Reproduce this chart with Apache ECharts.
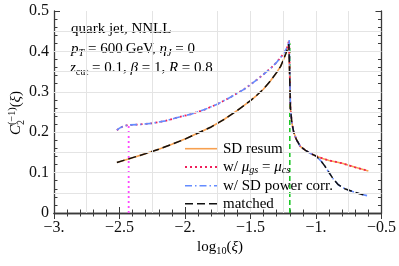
<!DOCTYPE html>
<html><head><meta charset="utf-8">
<script src="https://cdn.jsdelivr.net/npm/echarts@6/dist/echarts.min.js"></script>
<style>html,body{margin:0;padding:0;background:#fff}#c{width:399px;height:266px}</style>
</head><body><div id="c"></div>
<script>
// ---- data ----
const xTicks = [-3, -2.5, -2, -1.5, -1, -0.5];
const xTickLabels = ['\u22123.', '\u22122.5', '\u22122.', '\u22121.5', '\u22121.', '\u22120.5'];
const yTicks = [0, 0.1, 0.2, 0.3, 0.4, 0.5];
const yTickLabels = ['0', '0.1', '0.2', '0.3', '0.4', '0.5'];
const gridX = [-2.75, -2.25, -1.75, -1.5, -1.25, -1, -0.75];
const gridY = [0.05, 0.1, 0.15, 0.2, 0.25, 0.3, 0.35, 0.4, 0.45];

// lower branch (SD resum / matched) before the peak
const lowerX = [-2.52, -2.45, -2.4, -2.3, -2.2, -2.1, -2.0, -1.9, -1.8, -1.7, -1.6, -1.5, -1.45, -1.4, -1.35, -1.3, -1.27, -1.25, -1.23, -1.215, -1.207];
const lowerY = [0.125, 0.132, 0.137, 0.147, 0.158, 0.170, 0.183, 0.198, 0.213, 0.232, 0.254, 0.278, 0.292, 0.307, 0.326, 0.348, 0.363, 0.378, 0.395, 0.408, 0.418];
// upper branch (mu_gs = mu_cs / SD power corr.) before the peak
const upperX = [-2.52, -2.5, -2.47, -2.43, -2.35, -2.25, -2.15, -2.05, -1.95, -1.85, -1.75, -1.65, -1.55, -1.45, -1.35, -1.3, -1.25, -1.22, -1.205];
const upperY = [0.205, 0.210, 0.215, 0.218, 0.219, 0.222, 0.228, 0.237, 0.245, 0.256, 0.270, 0.287, 0.306, 0.330, 0.357, 0.373, 0.393, 0.410, 0.428];
// common drop after the peak
const dropX = [-1.195, -1.185, -1.17, -1.15, -1.12, -1.08, -1.04, -1.0];
const dropY = [0.260, 0.225, 0.200, 0.182, 0.165, 0.155, 0.147, 0.141];
// tails
const resumTailX = [-0.95, -0.9, -0.8, -0.7, -0.6];
const resumTailY = [0.135, 0.130, 0.123, 0.113, 0.104];
const matchedTailX = [-0.96, -0.93, -0.9, -0.87, -0.83, -0.78, -0.72, -0.66, -0.61];
const matchedTailY = [0.128, 0.115, 0.100, 0.085, 0.070, 0.060, 0.053, 0.047, 0.043];
// vertical markers
const greenLineX = [-1.2, -1.2];
const greenLineY = [0, 0.42];
const magentaLineX = [-2.43, -2.43];
const magentaLineY = [0, 0.218];

const seriesNames = ['SD resum', 'w/ \u03bcgs = \u03bccs', 'w/ SD power corr.', 'matched'];
const legendTexts = ['{n|SD resum}', '{n|w/ }{i|\u03bc}{si|gs}{n| = }{i|\u03bc}{si|cs}', '{n|w/ SD power corr.}', '{n|matched}'];
const seriesColors = ['rgb(247,160,80)', 'rgb(240,30,90)', 'rgb(100,140,255)', '#111111'];

function zip(xs, ys) { return xs.map((x, i) => [x, ys[i]]); }
const lowerPts = zip(lowerX, lowerY);
const upperPts = zip(upperX, upperY);
const dropPts = zip(dropX, dropY);
const sdResum = lowerPts.concat(dropPts, zip(resumTailX, resumTailY));
const muEq = upperPts.concat(dropPts, zip(resumTailX, resumTailY));
const powerCorr = upperPts.concat(dropPts, zip(matchedTailX, matchedTailY));
const matched = lowerPts.concat(dropPts, zip(matchedTailX, matchedTailY));

const SERIF = 'Liberation Serif';
const chart = echarts.init(document.getElementById('c'), null, {renderer: 'canvas'});

function axisBase(extra) {
  return Object.assign({
    type: 'value',
    axisLine: {show: true, lineStyle: {color: '#3a3a3a', width: 1.3}},
    axisTick: {show: true, inside: true, length: 6, lineStyle: {color: '#3a3a3a', width: 1}},
    minorTick: {show: true, splitNumber: 5, length: 3.5, lineStyle: {color: '#3a3a3a', width: 1}},
    splitLine: {show: false},
    minorSplitLine: {show: false}
  }, extra);
}

function richSet(fs, lh) {
  return {
    n: {fontFamily: SERIF, fontSize: fs, color: '#111', lineHeight: lh, verticalAlign: 'middle'},
    i: {fontFamily: SERIF, fontSize: fs, fontStyle: 'italic', color: '#111', lineHeight: lh, verticalAlign: 'middle'},
    s: {fontFamily: SERIF, fontSize: fs * 0.68, color: '#111', lineHeight: 8, verticalAlign: 'bottom'},
    si: {fontFamily: SERIF, fontSize: fs * 0.68, fontStyle: 'italic', color: '#111', lineHeight: 8, verticalAlign: 'bottom'},
    sup: {fontFamily: SERIF, fontSize: fs * 0.68, color: '#111', lineHeight: 8, verticalAlign: 'top'}
  };
}
const labelRich = richSet(15, 18);
const legendRich = richSet(15, 16);

const lineStyles = [
  {color: seriesColors[0], width: 1.6, type: 'solid'},
  {color: seriesColors[1], width: 1.8, type: [2, 3]},
  {color: seriesColors[2], width: 1.6, type: [7, 3, 1.5, 3]},
  {color: seriesColors[3], width: 1.5, type: [8, 4]}
];

// legend drawn as graphic elements (rows)
const legendRowsY = [148.7, 167, 185.7, 203.7];
const legendGraphics = [];
seriesNames.forEach((n, k) => {
  const ls = lineStyles[k];
  legendGraphics.push({type: 'line', z: 10, shape: {x1: 185, y1: legendRowsY[k], x2: 217, y2: legendRowsY[k]},
    style: {stroke: ls.color, lineWidth: ls.width, lineDash: ls.type === 'solid' ? null : ls.type}});
  legendGraphics.push({type: 'text', z: 10, x: 223, y: legendRowsY[k],
    style: {text: legendTexts[k], rich: legendRich, align: 'left', verticalAlign: 'middle'}});
});

const lineCommon = {type: 'line', showSymbol: false, symbol: 'none', xAxisIndex: 0, yAxisIndex: 0, z: 3, animation: false};

const option = {
  animation: false,
  grid: {left: 54, right: 16, top: 11, bottom: 53, containLabel: false},
  xAxis: [
    axisBase({min: -3, max: -0.5, interval: 0.5, position: 'bottom',
      axisLabel: {show: true, margin: 7, fontFamily: SERIF, fontSize: 16, color: '#111',
        formatter: v => { const k = xTicks.findIndex(t => Math.abs(t - v) < 1e-9); return k >= 0 ? xTickLabels[k] : ''; }}}),
    axisBase({min: -3, max: -0.5, interval: 0.5, position: 'top', axisLabel: {show: false}})
  ],
  yAxis: [
    axisBase({min: 0, max: 0.5, interval: 0.1, position: 'left',
      axisLabel: {show: true, margin: 5, fontFamily: SERIF, fontSize: 16, color: '#111',
        formatter: v => { const k = yTicks.findIndex(t => Math.abs(t - v) < 1e-9); return k >= 0 ? yTickLabels[k] : ''; }}}),
    axisBase({min: 0, max: 0.5, interval: 0.1, position: 'right', axisLabel: {show: false}})
  ],
  graphic: [
    {type: 'text', left: 71, top: 22, style: {text: '{n|quark jet, NNLL}', rich: labelRich}},
    {type: 'text', left: 71, top: 42, style: {text: '{i|p}{si|T}{n| = 600\u2009GeV, }{i|\u03b7}{si|J}{n| = 0}', rich: labelRich}},
    {type: 'text', left: 70, top: 61, style: {text: '{i|z}{s|cut}{n| = 0.1, }{i|\u03b2}{n| = 1, }{i|R}{n| = 0.8}', rich: labelRich}},
    {type: 'text', x: 220, y: 247, style: {text: '{n|log}{s|10}{n|(}{i|\u03be}{n|)}', rich: labelRich, align: 'center', verticalAlign: 'middle'}},
    {type: 'group', x: 16, y: 111, rotation: Math.PI / 2, children: [
      {type: 'text', x: -24, y: 0, style: {text: '{i|C}{sup|(\u22121)}{n|(}{i|\u03be}{n|)}', align: 'left', verticalAlign: 'middle', rich: labelRich}},
      {type: 'text', x: -14, y: 5, style: {text: '2', fontFamily: SERIF, fontSize: 10, fill: '#111', align: 'left', verticalAlign: 'middle'}}
    ]}
  ].concat(legendGraphics),
  series: [
    {type: 'line', name: 'grid', data: [], silent: true, z: 1, xAxisIndex: 0, yAxisIndex: 0,
      markLine: {silent: true, symbol: ['none', 'none'], label: {show: false}, animation: false,
        lineStyle: {color: '#e4e4e4', type: 'solid', width: 1},
        data: gridX.map(x => ({xAxis: x})).concat(gridY.map(y => ({yAxis: y})))}},
    Object.assign({}, lineCommon, {name: 'green', data: zip(greenLineX, greenLineY), z: 2,
      lineStyle: {color: 'rgb(30,200,40)', width: 1.6, type: [5, 3]}}),
    Object.assign({}, lineCommon, {name: 'magenta', data: zip(magentaLineX, magentaLineY), z: 2,
      lineStyle: {color: 'rgb(255,70,255)', width: 1.8, type: [2, 3]}}),
    Object.assign({}, lineCommon, {name: seriesNames[0], data: sdResum, lineStyle: lineStyles[0]}),
    Object.assign({}, lineCommon, {name: seriesNames[1], data: muEq, lineStyle: lineStyles[1]}),
    Object.assign({}, lineCommon, {name: seriesNames[2], data: powerCorr, lineStyle: lineStyles[2]}),
    Object.assign({}, lineCommon, {name: seriesNames[3], data: matched, lineStyle: lineStyles[3]})
  ]
};
chart.setOption(option);
</script>
</body></html>
